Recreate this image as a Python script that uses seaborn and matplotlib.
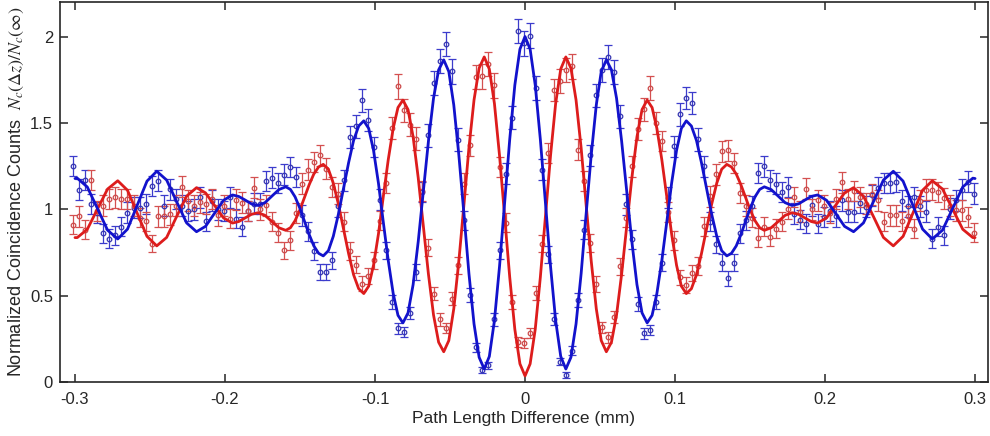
import numpy as np
import seaborn as sns
import matplotlib.pyplot as plt
from matplotlib.ticker import FixedLocator, FixedFormatter

# measured points, one every 0.004 mm from -0.301 to 0.299
delay = np.linspace(-0.301, 0.299, 151)

blue_counts = [1.25, 1.114, 1.17, 1.03, 0.98, 0.86, 0.83, 0.85, 0.90, 0.98,
               1.01, 1.01, 1.03, 1.135, 1.165, 1.02, 1.115, 1.06, 1.02, 0.99,
               1.00, 1.07, 0.93, 1.05, 1.00, 0.99, 1.07, 0.946, 0.898, 0.99,
               1.032, 1.032, 1.164, 1.183, 1.152, 1.20, 1.245, 1.187, 0.965, 0.874,
               0.759, 0.638, 0.638, 0.705, 1.017, 1.168, 1.418, 1.48, 1.63, 1.518,
               1.36, 1.056, 0.763, 0.464, 0.31, 0.29, 0.397, 0.638, 1.10, 1.428,
               1.73, 1.86, 1.957, 1.798, 1.403, 0.936, 0.503, 0.20, 0.069, 0.098,
               0.362, 0.763, 1.206, 1.53, 2.03, 1.96, 2.006, 1.703, 1.229, 0.74,
               0.366, 0.117, 0.04, 0.181, 0.474, 0.882, 1.312, 1.659, 1.807, 1.88,
               1.794, 1.538, 1.029, 0.825, 0.451, 0.281, 0.30, 0.464, 0.69, 1.067,
               1.364, 1.549, 1.645, 1.614, 1.405, 1.249, 0.927, 0.798, 0.69, 0.60,
               0.69, 0.86, 0.936, 1.017, 1.21, 1.249, 1.168, 1.148, 1.10, 1.129,
               0.975, 0.94, 0.917, 1.023, 0.917, 0.956, 0.99, 0.96, 1.052, 0.985,
               0.985, 1.037, 1.014, 1.08, 1.125, 1.152, 1.152, 1.158, 1.05, 1.017,
               1.071, 1.017, 0.985, 0.83, 0.898, 0.85, 1.004, 1.052, 1.114, 1.16,
               1.09]
blue_err = [.06, .06, .06, .06, .06, .055, .055, .055, .055, .06,
            .06, .06, .06, .06, .06, .06, .06, .06, .06, .06,
            .06, .06, .055, .06, .06, .06, .06, .055, .055, .06,
            .06, .06, .06, .06, .06, .06, .06, .06, .06, .055,
            .05, .045, .045, .05, .06, .06, .065, .065, .065, .065,
            .06, .06, .05, .04, .03, .03, .035, .045, .06, .065,
            .07, .07, .07, .07, .065, .055, .04, .025, .015, .02,
            .035, .05, .06, .065, .07, .07, .07, .07, .06, .05,
            .035, .02, .015, .025, .04, .055, .06, .065, .07, .07,
            .07, .065, .06, .055, .04, .03, .03, .04, .05, .06,
            .06, .065, .065, .065, .065, .06, .055, .05, .05, .045,
            .05, .055, .055, .06, .06, .06, .06, .06, .06, .06,
            .06, .055, .055, .06, .055, .06, .06, .06, .06, .06,
            .06, .06, .06, .06, .06, .06, .06, .06, .06, .06,
            .06, .06, .06, .055, .055, .055, .06, .06, .06, .06,
            .06]

red_counts = [0.91, 0.96, 0.88, 1.17, 0.99, 1.02, 1.06, 1.07, 1.06, 1.06,
              1.02, 0.95, 0.93, 0.80, 0.96, 0.96, 0.97, 1.02, 1.13, 1.05,
              1.02, 1.04, 1.03, 1.06, 0.965, 1.02, 0.946, 1.056, 1.039, 0.99,
              1.124, 1.00, 1.023, 0.927, 0.864, 0.763, 0.821, 0.979, 1.148, 1.229,
              1.273, 1.312, 1.235, 1.129, 1.09, 0.927, 0.759, 0.68, 0.57, 0.613,
              0.705, 0.933, 1.152, 1.472, 1.711, 1.572, 1.49, 1.409, 1.106, 0.778,
              0.512, 0.362, 0.314, 0.483, 0.676, 1.148, 1.37, 1.765, 1.769, 1.842,
              1.717, 1.245, 0.922, 0.464, 0.233, 0.224, 0.285, 0.513, 0.80, 1.325,
              1.692, 1.742, 1.807, 1.827, 1.345, 1.164, 0.805, 0.566, 0.316, 0.258,
              0.377, 0.67, 0.952, 1.249, 1.466, 1.578, 1.703, 1.501, 1.395, 0.984,
              0.821, 0.605, 0.561, 0.632, 0.671, 0.902, 1.075, 1.202, 1.335, 1.341,
              1.268, 1.094, 1.02, 0.95, 0.836, 0.898, 0.84, 0.888, 0.927, 1.004,
              1.071, 0.985, 1.119, 1.00, 1.052, 1.02, 0.98, 1.06, 1.157, 1.06,
              1.105, 1.071, 1.033, 1.087, 1.052, 0.927, 0.965, 0.965, 0.932, 0.96,
              0.888, 1.05, 1.114, 1.114, 1.10, 1.063, 1.02, 0.994, 0.994, 0.956,
              0.863]
red_err = [.055, .06, .055, .06, .06, .06, .06, .06, .06, .06,
           .06, .055, .055, .05, .06, .06, .06, .06, .06, .06,
           .06, .06, .06, .06, .06, .06, .055, .06, .06, .06,
           .06, .06, .06, .055, .055, .05, .055, .06, .06, .06,
           .06, .06, .06, .06, .06, .055, .05, .05, .045, .045,
           .05, .055, .06, .065, .07, .065, .065, .065, .06, .05,
           .04, .035, .03, .04, .05, .06, .06, .07, .07, .07,
           .07, .06, .055, .04, .03, .03, .03, .04, .05, .06,
           .065, .07, .07, .07, .06, .06, .05, .045, .03, .03,
           .035, .05, .055, .06, .065, .065, .07, .065, .06, .06,
           .055, .045, .045, .045, .05, .055, .06, .06, .06, .06,
           .06, .06, .06, .055, .055, .055, .055, .055, .055, .06,
           .06, .06, .06, .06, .06, .06, .06, .06, .06, .06,
           .06, .06, .06, .06, .06, .055, .06, .06, .055, .06,
           .055, .06, .06, .06, .06, .06, .06, .06, .06, .06,
           .055]

# fitted curves, values
fit_x = [-0.3000, -0.2985, -0.2918, -0.2850, -0.2783, -0.2715, -0.2650, -0.2585, -0.2520, -0.2455,
         -0.2389, -0.2323, -0.2256, -0.2190, -0.2130, -0.2070, -0.2010, -0.1950, -0.1908, -0.1865,
         -0.1823, -0.1780, -0.1734, -0.1688, -0.1641, -0.1595, -0.1564, -0.1533, -0.1501, -0.1470,
         -0.1439, -0.1408, -0.1376, -0.1345, -0.1311, -0.1278, -0.1244, -0.1210, -0.1176, -0.1143,
         -0.1109, -0.1075, -0.1042, -0.1010, -0.0977, -0.0945, -0.0912, -0.0879, -0.0847, -0.0814,
         -0.0780, -0.0746, -0.0712, -0.0678, -0.0644, -0.0610, -0.0576, -0.0542, -0.0508, -0.0475,
         -0.0441, -0.0407, -0.0374, -0.0340, -0.0306, -0.0272, -0.0238, -0.0204, -0.0170, -0.0136,
         -0.0102, -0.0068, -0.0034, 0.0,
         0.0034, 0.0068, 0.0102, 0.0136, 0.0170, 0.0204, 0.0238, 0.0272, 0.0306, 0.0340,
         0.0374, 0.0407, 0.0441, 0.0475, 0.0508, 0.0542, 0.0576, 0.0610, 0.0644, 0.0678,
         0.0712, 0.0746, 0.0780, 0.0814, 0.0847, 0.0879, 0.0912, 0.0945, 0.0977, 0.1010,
         0.1042, 0.1075, 0.1109, 0.1143, 0.1176, 0.1210, 0.1244, 0.1278, 0.1311, 0.1345,
         0.1376, 0.1408, 0.1439, 0.1470, 0.1501, 0.1533, 0.1564, 0.1595, 0.1641, 0.1688,
         0.1734, 0.1780, 0.1823, 0.1865, 0.1908, 0.1950, 0.2010, 0.2070, 0.2130, 0.2190,
         0.2256, 0.2323, 0.2389, 0.2455, 0.2520, 0.2585, 0.2650, 0.2715, 0.2783, 0.2850,
         0.2918, 0.2985, 0.3000]

blue_fit = [1.178, 1.180, 1.129, 1.004, 0.879, 0.828, 0.885, 1.024, 1.163, 1.220,
            1.169, 1.045, 0.921, 0.870, 0.901, 0.977, 1.052, 1.083, 1.074, 1.053,
            1.031, 1.022, 1.038, 1.076, 1.114, 1.130, 1.115, 1.072, 1.006, 0.930,
            0.854, 0.788, 0.745, 0.730, 0.760, 0.844, 0.972, 1.121, 1.270, 1.398,
            1.482, 1.512, 1.468, 1.341, 1.150, 0.927, 0.704, 0.513, 0.386, 0.342,
            0.400, 0.564, 0.813, 1.104, 1.394, 1.643, 1.807, 1.865, 1.797, 1.604,
            1.312, 0.970, 0.628, 0.336, 0.143, 0.075, 0.148, 0.356, 0.670, 1.038,
            1.405, 1.719, 1.927, 2.000,
            1.927, 1.719, 1.405, 1.038, 0.670, 0.356, 0.148, 0.075, 0.143, 0.336,
            0.628, 0.970, 1.312, 1.604, 1.797, 1.865, 1.807, 1.643, 1.394, 1.104,
            0.813, 0.564, 0.400, 0.342, 0.386, 0.513, 0.704, 0.927, 1.150, 1.341,
            1.468, 1.512, 1.482, 1.398, 1.270, 1.121, 0.972, 0.844, 0.760, 0.730,
            0.745, 0.788, 0.854, 0.930, 1.006, 1.072, 1.115, 1.130, 1.114, 1.076,
            1.038, 1.022, 1.031, 1.053, 1.074, 1.083, 1.052, 0.977, 0.901, 0.870,
            0.921, 1.045, 1.169, 1.220, 1.163, 1.024, 0.885, 0.828, 0.879, 1.004,
            1.129, 1.180, 1.178]

red_fit = [0.836, 0.836, 0.884, 1.001, 1.117, 1.165, 1.110, 0.977, 0.843, 0.788,
           0.837, 0.957, 1.076, 1.125, 1.095, 1.023, 0.950, 0.920, 0.929, 0.950,
           0.971, 0.980, 0.965, 0.929, 0.893, 0.878, 0.893, 0.934, 0.996, 1.069,
           1.142, 1.204, 1.245, 1.260, 1.232, 1.151, 1.029, 0.886, 0.743, 0.621,
           0.540, 0.512, 0.555, 0.676, 0.858, 1.072, 1.286, 1.468, 1.589, 1.632,
           1.577, 1.419, 1.182, 0.904, 0.625, 0.388, 0.230, 0.175, 0.240, 0.424,
           0.702, 1.029, 1.355, 1.633, 1.817, 1.882, 1.812, 1.612, 1.311, 0.959,
           0.606, 0.305, 0.105, 0.035,
           0.105, 0.305, 0.606, 0.959, 1.311, 1.612, 1.812, 1.882, 1.817, 1.633,
           1.355, 1.029, 0.702, 0.424, 0.240, 0.175, 0.230, 0.388, 0.625, 0.904,
           1.182, 1.419, 1.577, 1.632, 1.589, 1.468, 1.286, 1.072, 0.858, 0.676,
           0.555, 0.512, 0.540, 0.621, 0.743, 0.886, 1.029, 1.151, 1.232, 1.260,
           1.245, 1.204, 1.142, 1.069, 0.996, 0.934, 0.893, 0.878, 0.893, 0.929,
           0.965, 0.980, 0.971, 0.950, 0.929, 0.920, 0.950, 1.023, 1.095, 1.125,
           1.076, 0.957, 0.837, 0.788, 0.843, 0.977, 1.110, 1.165, 1.117, 1.001,
           0.884, 0.836, 0.836]

x_ticks = [-0.3, -0.2, -0.1, 0, 0.1, 0.2, 0.3]
x_tick_labels = ['-0.3', '-0.2', '-0.1', '0', '0.1', '0.2', '0.3']
y_ticks = [0, 0.5, 1, 1.5, 2]
y_tick_labels = ['0', '0.5', '1', '1.5', '2']

sns.set_theme(style='ticks')
plt.rcParams['font.family'] = ['Liberation Sans', 'DejaVu Sans']
plt.rcParams['mathtext.fontset'] = 'stix'
plt.rcParams['axes.unicode_minus'] = False

fig = plt.figure(figsize=(9.9, 4.36), dpi=100)
ax = fig.add_axes([0.0606, 0.1239, 0.9369, 0.8715])

blue_pts, blue_line = '#3535B0', '#1212CC'
red_pts, red_line = '#CC4A4A', '#DD1C1C'

ax.errorbar(delay, blue_counts, yerr=blue_err, fmt='o', ms=3.3, mfc='none',
            mec=blue_pts, mew=0.9, ecolor='#3C3CCC', elinewidth=0.9,
            capsize=2.6, capthick=0.9, zorder=2)
ax.errorbar(delay, red_counts, yerr=red_err, fmt='o', ms=3.3, mfc='none',
            mec=red_pts, mew=0.9, ecolor='#D45050', elinewidth=0.9,
            capsize=2.6, capthick=0.9, zorder=2)

sns.lineplot(x=fit_x, y=red_fit, ax=ax, color=red_line, lw=2.0,
             estimator=None, zorder=3)
sns.lineplot(x=fit_x, y=blue_fit, ax=ax, color=blue_line, lw=2.0,
             estimator=None, zorder=3)

ax.set_xlim(-0.31, 0.3083)
ax.set_ylim(0, 2.2)
ax.xaxis.set_major_locator(FixedLocator(x_ticks))
ax.xaxis.set_major_formatter(FixedFormatter(x_tick_labels))
ax.yaxis.set_major_locator(FixedLocator(y_ticks))
ax.yaxis.set_major_formatter(FixedFormatter(y_tick_labels))
ax.tick_params(direction='in', length=6, width=1.1, color='#262626',
               labelsize=12, labelcolor='#262626', top=True, right=True)
ax.tick_params(axis='x', pad=7)
ax.tick_params(axis='y', pad=5)
for s in ax.spines.values():
    s.set_color('#262626')
    s.set_linewidth(1.2)

ax.set_xlabel('Path Length Difference (mm)', fontsize=12.5, color='#262626',
              labelpad=3)
ax.set_ylabel(r'Normalized Coincidence Counts  $N_c(\Delta z)/N_c(\infty)$',
              fontsize=13, color='#262626', labelpad=3)

fig.savefig('out.png', dpi=100)
